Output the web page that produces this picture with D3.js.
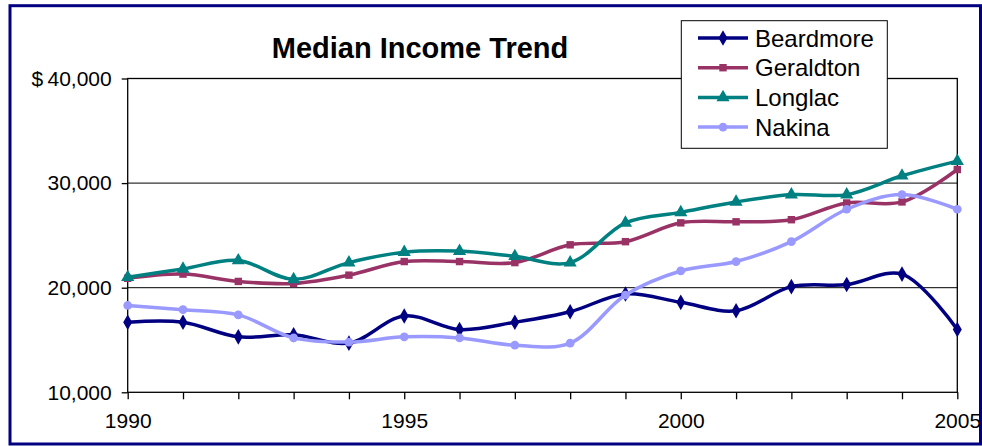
<!DOCTYPE html>
<html>
<head>
<meta charset="utf-8">
<script src="https://cdn.jsdelivr.net/npm/d3@7"></script>
<style>
  body { margin: 0; background: #fff; }
  svg { display: block; font-family: "Liberation Sans", Arial, sans-serif; }
</style>
</head>
<body>
<svg width="982" height="446"></svg>
<script>
// ---- data ----
var years = d3.range(1990, 2006);
var beardmore = [16700, 16700, 15300, 15500, 14700, 17300, 16000, 16700, 17700, 19400, 18600, 17800, 20100, 20300, 21300, 16000];
var geraldton = [20900, 21300, 20600, 20400, 21200, 22500, 22500, 22400, 24100, 24400, 26200, 26300, 26500, 28100, 28200, 31300];
var longlac   = [21000, 21800, 22600, 20800, 22400, 23400, 23500, 23000, 22400, 26200, 27200, 28200, 28900, 28900, 30700, 32100];
var nakina    = [18300, 17900, 17400, 15200, 14800, 15300, 15200, 14500, 14700, 19300, 21600, 22500, 24400, 27500, 28900, 27500];
var seriesNames = ['Beardmore', 'Geraldton', 'Longlac', 'Nakina'];
var yTicks = [10000, 20000, 30000, 40000];
var xLabelYears = [1990, 1995, 2000, 2005];

var colors = ['#000080', '#993366', '#008080', '#9999ff'];
var symbols = [d3.symbolDiamond, d3.symbolSquare, d3.symbolTriangle, d3.symbolCircle];
var symSizes = [70, 55, 75, 60];

var svg = d3.select('svg');
var plotL = 127.7, plotR = 957.3, plotT = 78.5, plotB = 392.3;

var x = d3.scaleLinear().domain([1990, 2005]).range([plotL, plotR]);
var y = d3.scaleLinear().domain([10000, 40000]).range([plotB, plotT]);

var series = [beardmore, geraldton, longlac, nakina].map(function (vals, i) {
    return { name: seriesNames[i], color: colors[i], symbol: symbols[i], size: symSizes[i],
             values: vals.map(function (v, j) { return { year: years[j], value: v }; }) };
});

// outer frame
svg.append('rect')
    .attr('x', 10).attr('y', 5.7).attr('width', 970.5).attr('height', 438.3)
    .attr('fill', 'none').attr('stroke', '#000080').attr('stroke-width', 3);

// title
svg.append('text')
    .attr('x', 420).attr('y', 58)
    .attr('text-anchor', 'middle')
    .attr('font-weight', 'bold').attr('font-size', 29)
    .text('Median Income Trend');

// gridlines
svg.append('g').selectAll('line')
    .data(yTicks.filter(function (t) { return t > 10000 && t < 40000; }))
    .enter().append('line')
    .attr('x1', plotL).attr('x2', plotR)
    .attr('y1', function (d) { return y(d); }).attr('y2', function (d) { return y(d); })
    .attr('stroke', '#000').attr('stroke-width', 1);

// plot frame
svg.append('rect')
    .attr('x', plotL).attr('y', plotT).attr('width', plotR - plotL).attr('height', plotB - plotT)
    .attr('fill', 'none').attr('stroke', '#000').attr('stroke-width', 1.3);

// y axis
var yAxis = svg.append('g')
    .attr('transform', 'translate(' + plotL + ',0)')
    .call(d3.axisLeft(y).tickValues(yTicks).tickSize(6).tickPadding(10)
        .tickFormat(function (d) { return (d === 40000 ? '$\u2009' : '') + d3.format(',')(d); }));
yAxis.select('.domain').remove();
yAxis.selectAll('line').attr('stroke', '#000').attr('stroke-width', 1.3);
yAxis.selectAll('text').attr('font-size', 21).attr('fill', '#000')
    .attr('font-family', '"Liberation Sans", Arial, sans-serif');

// x axis
var xAxis = svg.append('g')
    .attr('transform', 'translate(0,' + plotB + ')')
    .call(d3.axisBottom(x).tickValues(years).tickSize(7).tickPadding(14)
        .tickFormat(function (d) { return xLabelYears.indexOf(d) >= 0 ? d : ''; }));
xAxis.select('.domain').remove();
xAxis.selectAll('line').attr('stroke', '#000').attr('stroke-width', 1.3);
xAxis.selectAll('text').attr('font-size', 21).attr('fill', '#000')
    .attr('font-family', '"Liberation Sans", Arial, sans-serif');

// lines
var line = d3.line()
    .x(function (d) { return x(d.year); })
    .y(function (d) { return y(d.value); })
    .curve(d3.curveCatmullRom.alpha(0.5));

var g = svg.selectAll('g.series').data(series).enter().append('g').attr('class', 'series');
g.append('path')
    .attr('d', function (d) { return line(d.values); })
    .attr('fill', 'none')
    .attr('stroke', function (d) { return d.color; })
    .attr('stroke-width', 3.5)
    .attr('stroke-linejoin', 'round');

g.each(function (s) {
    d3.select(this).selectAll('path.mark').data(s.values).enter().append('path')
        .attr('class', 'mark')
        .attr('transform', function (d) { return 'translate(' + x(d.year) + ',' + y(d.value) + ')'; })
        .attr('d', d3.symbol().type(s.symbol).size(s.size))
        .attr('fill', s.color);
});

// legend
var legend = svg.append('g');
legend.append('rect')
    .attr('x', 681.3).attr('y', 20.7).attr('width', 206).attr('height', 127.6)
    .attr('fill', '#fff').attr('stroke', '#000').attr('stroke-width', 1);
var item = legend.selectAll('g.item').data(series).enter().append('g')
    .attr('class', 'item')
    .attr('transform', function (d, i) { return 'translate(0,' + (38 + i * 29.7) + ')'; });
item.append('line')
    .attr('x1', 698).attr('x2', 748)
    .attr('stroke', function (d) { return d.color; }).attr('stroke-width', 3.5);
item.append('path')
    .attr('transform', 'translate(723,0)')
    .attr('d', function (d) { return d3.symbol().type(d.symbol).size(d.size)(); })
    .attr('fill', function (d) { return d.color; });
item.append('text')
    .attr('x', 755).attr('y', 8.5)
    .attr('font-size', 24)
    .text(function (d) { return d.name; });
</script>
</body>
</html>
